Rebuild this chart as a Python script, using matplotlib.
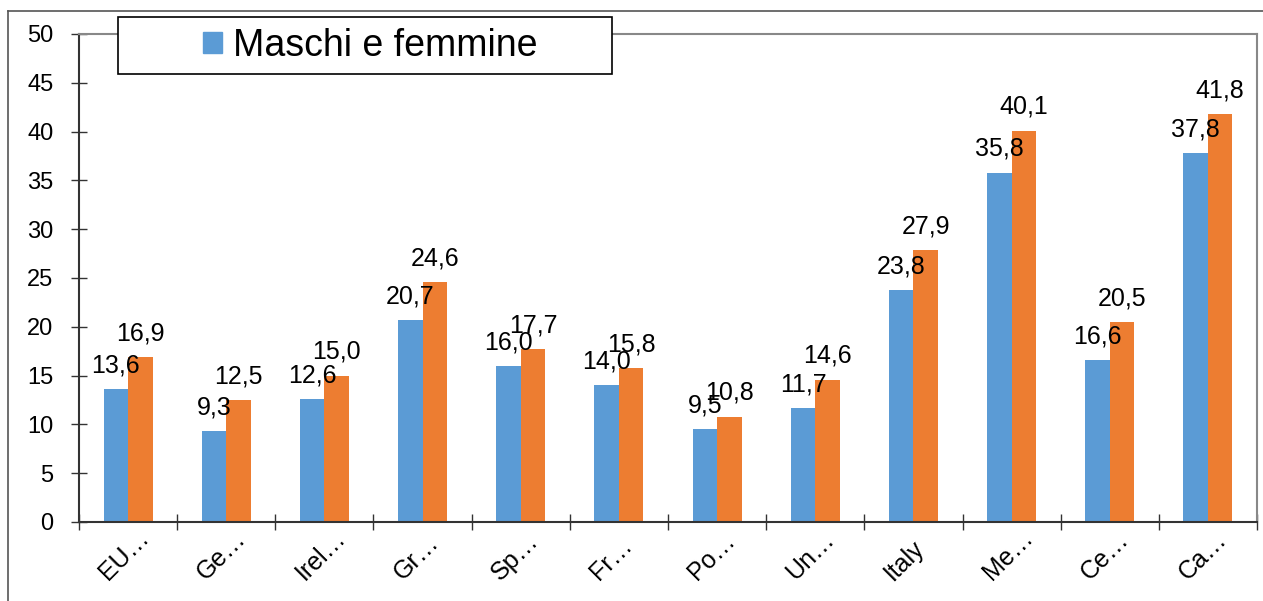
import numpy as np
from matplotlib import pyplot as plt
from matplotlib.patches import Rectangle, Patch
from matplotlib.lines import Line2D
from matplotlib.transforms import ScaledTranslation

plt.rcParams['font.family'] = ['Liberation Sans', 'DejaVu Sans']

categories = ["EU\u2026", "Ge\u2026", "Irel\u2026", "Gr\u2026", "Sp\u2026", "Fr\u2026",
              "Po\u2026", "Un\u2026", "Italy", "Me\u2026", "Ce\u2026", "Ca\u2026"]
maschi = [13.6, 9.3, 12.6, 20.7, 16.0, 14.0, 9.5, 11.7, 23.8, 35.8, 16.6, 37.8]
femmine = [16.9, 12.5, 15.0, 24.6, 17.7, 15.8, 10.8, 14.6, 27.9, 40.1, 20.5, 41.8]
legend_label = "Maschi e femmine"

W, H = 1263, 601
fig = plt.figure(figsize=(W / 100, H / 100), dpi=100)
ax = fig.add_axes([79 / W, 1 - 522 / H, (1257 - 79) / W, (522 - 34) / H])

x = np.arange(len(categories))
bw = 0.25
b1 = ax.bar(x - bw / 2, maschi, bw, color='#5B9BD5', zorder=2)
b2 = ax.bar(x + bw / 2, femmine, bw, color='#ED7D31', zorder=2)


def lab(v):
    return f"{v:.1f}".replace('.', ',')


for bars, vals in ((b1, maschi), (b2, femmine)):
    for r, v in zip(bars, vals):
        ax.annotate(lab(v), (r.get_x() + r.get_width() / 2, v),
                    xytext=(0, 12), textcoords='offset points',
                    ha='center', va='baseline', fontsize=18, zorder=3)

ax.set_xlim(-0.5, len(categories) - 0.5)
ax.set_ylim(0, 50)
ax.set_yticks(np.arange(0, 51, 5))
ax.set_xticks(np.arange(-0.5, len(categories), 1), minor=False)
ax.set_xticklabels([])
ax.set_xticks(x, minor=True)
ax.set_xticklabels(categories, minor=True, rotation=45, ha='left', va='baseline',
                   rotation_mode='anchor', fontsize=18)
ax.tick_params(axis='x', which='minor', length=0, pad=0)
ax.tick_params(axis='x', which='major', direction='inout', length=12,
               width=1, color='#333333')
ax.tick_params(axis='y', direction='inout', length=11, width=1,
               color='#333333', labelsize=17, pad=13)

# shift category labels so they start down-left of the group centre
shift = ScaledTranslation(-20 / 100, -59 / 100, fig.dpi_scale_trans)
for t in ax.get_xticklabels(minor=True):
    t.set_transform(t.get_transform() + shift)

for s in ('left', 'bottom'):
    ax.spines[s].set_color('#333333')
    ax.spines[s].set_linewidth(1.5)
for s in ('top', 'right'):
    ax.spines[s].set_color('#888888')
    ax.spines[s].set_linewidth(1.5)

# outer chart border (cut off at right and bottom)
fig.add_artist(Line2D([8 / W, 8 / W], [0, 1 - 11 / H], color='#555555', lw=1.2))
fig.add_artist(Line2D([8 / W, 1], [1 - 11 / H, 1 - 11 / H], color='#555555', lw=1.2))

# legend box
fig.add_artist(Rectangle((118 / W, 1 - 74 / H), (612 - 118) / W, (74 - 17) / H,
                         transform=fig.transFigure, facecolor='white',
                         edgecolor='black', lw=1.2, zorder=4))
fig.legend(handles=[Patch(color='#5B9BD5', label=legend_label)], loc='center',
           bbox_to_anchor=(370 / W, 1 - 46 / H), frameon=False, fontsize=27,
           handlelength=0.5, handleheight=0.5, handletextpad=0.3)

fig.savefig('out.png', dpi=100)
